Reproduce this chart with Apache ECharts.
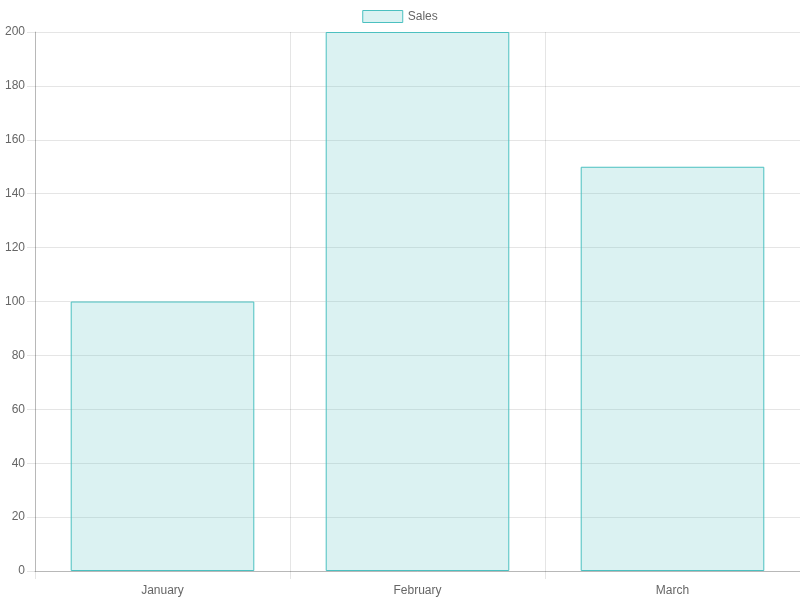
<!DOCTYPE html>
<html>
<head>
<meta charset="utf-8">
<script src="https://cdn.jsdelivr.net/npm/echarts@6/dist/echarts.min.js"></script>
<style>
  html, body { margin: 0; padding: 0; background: #fff; }
  #chart { width: 800px; height: 600px; }
</style>
</head>
<body>
<div id="chart"></div>
<script>
var months = ['January', 'February', 'March'];
var sales = [100, 200, 150];

var chart = echarts.init(document.getElementById('chart'));
var font = '"Liberation Sans", Arial, Helvetica, sans-serif';

chart.setOption({
    animation: false,
    textStyle: {fontFamily: font},
    legend: {
        data: ['Sales'],
        top: 5,
        left: 'center',
        itemWidth: 40,
        itemHeight: 12,
        itemGap: 10,
        icon: 'rect',
        itemStyle: {
            color: 'rgba(75,192,192,0.2)',
            borderColor: 'rgb(75,192,192)',
            borderWidth: 1
        },
        textStyle: {color: '#666', fontSize: 12, fontFamily: font}
    },
    grid: {left: 35, right: 0, top: 32, bottom: 29, containLabel: false},
    xAxis: {
        type: 'category',
        data: months,
        axisLine: {lineStyle: {color: 'rgba(0,0,0,0.2)'}},
        axisTick: {show: true, length: 8, alignWithLabel: false, lineStyle: {color: 'rgba(0,0,0,0.1)'}},
        splitLine: {show: true, interval: 0, lineStyle: {color: 'rgba(0,0,0,0.1)'}},
        axisLabel: {color: '#666', fontSize: 12, margin: 14, fontFamily: font}
    },
    yAxis: {
        type: 'value',
        min: 0,
        max: 200,
        interval: 20,
        axisLine: {show: true, lineStyle: {color: 'rgba(0,0,0,0.2)'}},
        axisTick: {show: true, length: 8, lineStyle: {color: 'rgba(0,0,0,0.1)'}},
        splitLine: {show: true, lineStyle: {color: 'rgba(0,0,0,0.1)'}},
        axisLabel: {color: '#666', fontSize: 12, margin: 10, fontFamily: font, padding: [2, 0, 0, 0]}
    },
    series: [{
        name: 'Sales',
        type: 'bar',
        data: sales,
        barCategoryGap: '28%',
        itemStyle: {
            color: 'rgba(75,192,192,0.2)',
            borderColor: 'rgb(75,192,192)',
            borderWidth: 1
        }
    }]
});
</script>
</body>
</html>
